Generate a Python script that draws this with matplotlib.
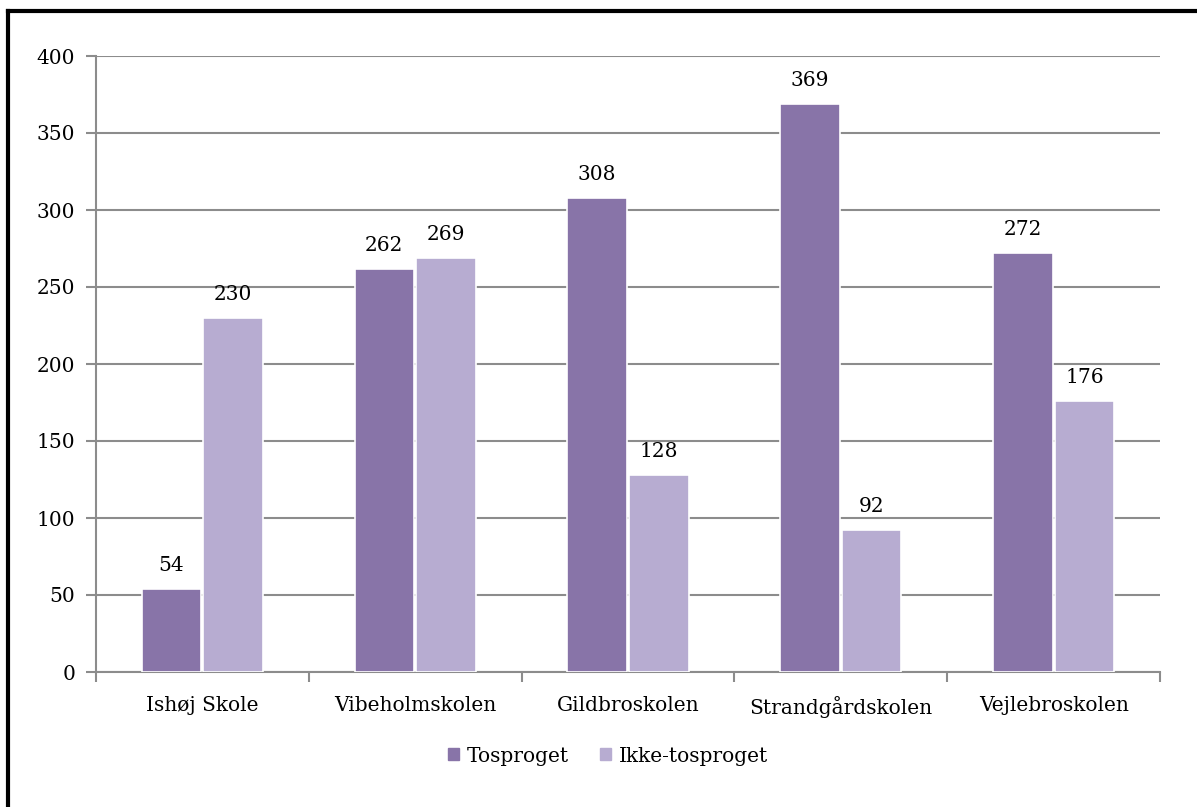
import matplotlib
matplotlib.use("Agg")
import matplotlib.pyplot as plt
import numpy as np
from matplotlib.lines import Line2D

categories = ["Ishøj Skole", "Vibeholmskolen", "Gildbroskolen", "Strandgårdskolen", "Vejlebroskolen"]
series_names = ["Tosproget", "Ikke-tosproget"]
tosproget = [54, 262, 308, 369, 272]
ikke_tosproget = [230, 269, 128, 92, 176]
yticks = [0, 50, 100, 150, 200, 250, 300, 350, 400]

colors = ["#8874A8", "#B7ACD1"]
grid_color = "#8C8C8C"
font = ["DejaVu Serif"]
plt.rcParams["font.family"] = font
FS = 14.5

fig = plt.figure(figsize=(11.97, 8.07), dpi=100)
ax = fig.add_axes([96/1197, 1 - 672/807, (1160-96)/1197, (672-56)/807])

x = np.arange(len(categories))
w = 0.28
gap = 0.005
for i, (vals, c, name) in enumerate(zip([tosproget, ikke_tosproget], colors, series_names)):
    off = (-w/2 - gap) if i == 0 else (w/2 + gap)
    bars = ax.bar(x + off, vals, width=w, color=c, edgecolor="white", linewidth=1.2,
                  label=name, zorder=3)
    for b, v in zip(bars, vals):
        ax.annotate(str(v), (b.get_x() + b.get_width()/2, v), xytext=(0, 10),
                    textcoords="offset points", ha="center", va="bottom", fontsize=FS,
                    color="black")

ax.set_xlim(-0.5, len(categories) - 0.5)
ax.set_ylim(0, 400)
ax.set_yticks(yticks)
ax.yaxis.grid(True, color=grid_color, linewidth=1.5, zorder=0)
ax.set_axisbelow(True)
ax.set_xticks(x)
ax.set_xticklabels(categories)
ax.set_xticks(np.arange(-0.5, len(categories) + 0.5, 1), minor=True)
ax.tick_params(axis="x", which="major", length=0, pad=17, labelsize=FS)
ax.tick_params(axis="x", which="minor", length=7, width=1.5, color=grid_color, direction="out")
ax.tick_params(axis="y", length=7, width=1.5, color=grid_color, direction="out", pad=8, labelsize=FS)
for s in ["top", "right"]:
    ax.spines[s].set_visible(False)
for s in ["left", "bottom"]:
    ax.spines[s].set_color(grid_color)
    ax.spines[s].set_linewidth(1.5)

handles = [plt.Rectangle((0, 0), 1, 1, color=c) for c in colors]
fig.legend(handles, series_names, loc="center", bbox_to_anchor=(608/1197, 1 - 756/807),
           ncol=2, frameon=False, fontsize=FS, handlelength=0.55, handleheight=0.55,
           handletextpad=0.4, columnspacing=1.5)

# outer frame (top and left)
fig.add_artist(Line2D([8/1197, 1], [1 - 11/807, 1 - 11/807], color="black", linewidth=3,
                      transform=fig.transFigure))
fig.add_artist(Line2D([8/1197, 8/1197], [0, 1 - 11/807], color="black", linewidth=3,
                      transform=fig.transFigure))

fig.savefig("out.png", dpi=100)
